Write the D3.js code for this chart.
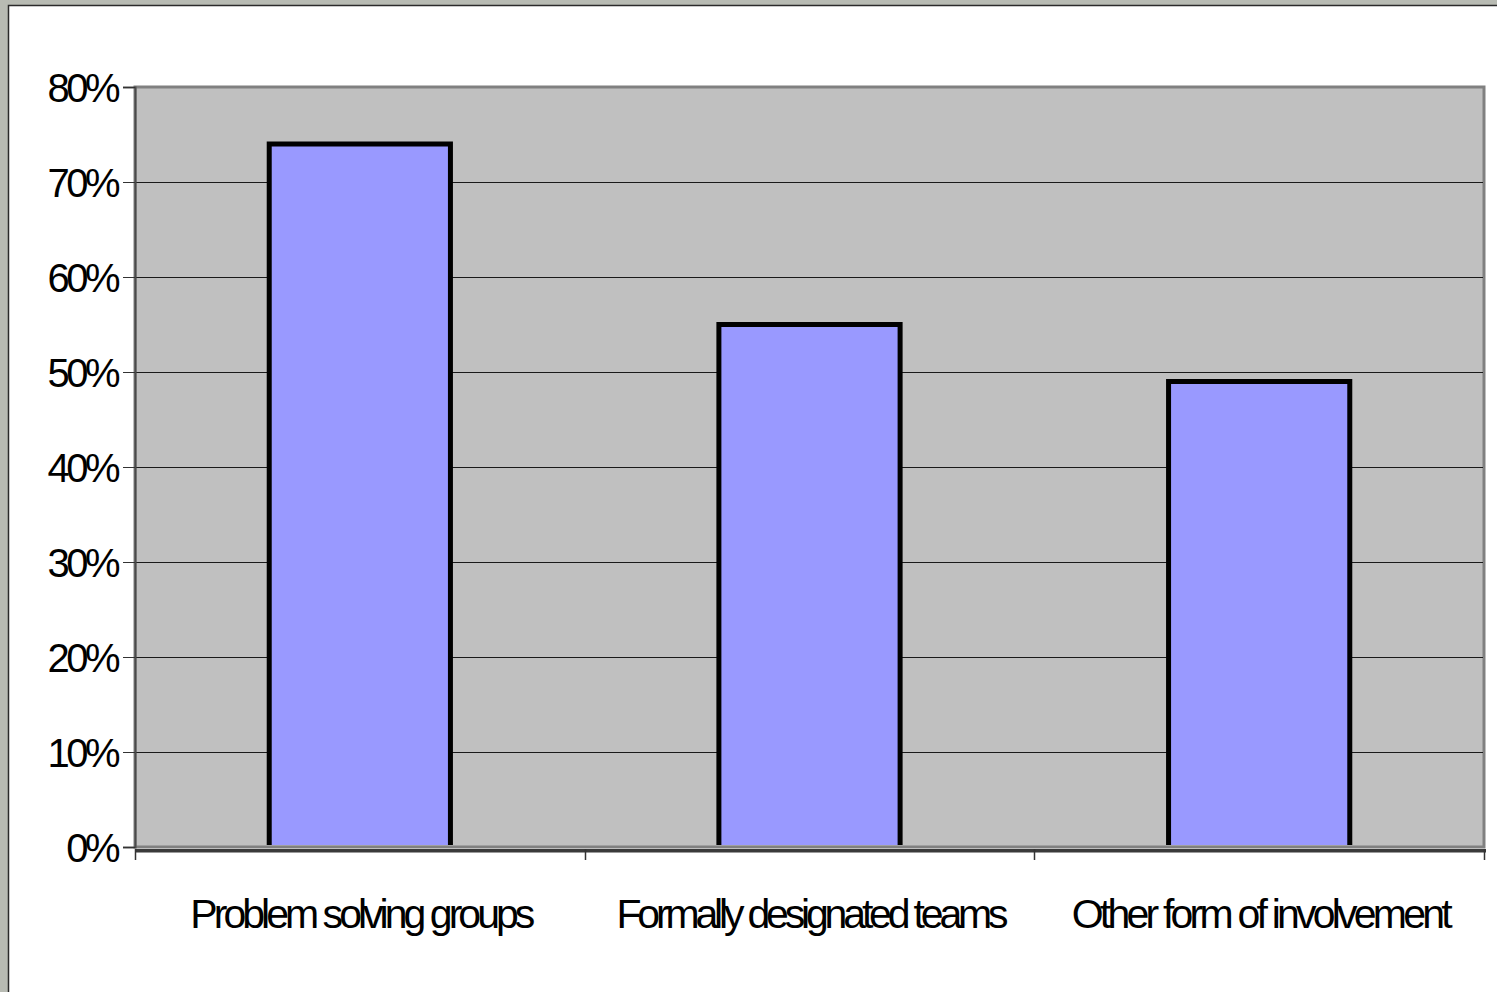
<!DOCTYPE html>
<html>
<head>
<meta charset="utf-8">
<script src="https://cdn.jsdelivr.net/npm/d3@7"></script>
<style>
  html, body { margin: 0; padding: 0; background: #b8bbb3; }
  svg { display: block; }
</style>
</head>
<body>
<svg id="chart" width="1497" height="992"></svg>
<script>
// Share of respondents by type of employee involvement
const categories = ["Problem solving groups", "Formally designated teams", "Other form of involvement"];
const values = [0.74, 0.55, 0.49];
const yTicks = [0, 0.1, 0.2, 0.3, 0.4, 0.5, 0.6, 0.7, 0.8];
const yTickLabels = ["0%", "10%", "20%", "30%", "40%", "50%", "60%", "70%", "80%"];
const labelWidths = [341, 388, 377];

const svg = d3.select("#chart");

// chart frame
svg.append("rect")
  .attr("x", 8.5).attr("y", 5.5)
  .attr("width", 1500).attr("height", 1000)
  .attr("fill", "#ffffff")
  .attr("stroke", "#2a2a2a").attr("stroke-width", 1.5);

const plot = { left: 135, right: 1484, top: 87, bottom: 847 };

const x = d3.scaleBand()
  .domain(categories)
  .range([plot.left, plot.right])
  .paddingInner(0).paddingOuter(0);

const y = d3.scaleLinear()
  .domain([0, 0.8])
  .range([plot.bottom, plot.top]);

// plot area
svg.append("rect")
  .attr("x", plot.left).attr("y", plot.top)
  .attr("width", plot.right - plot.left).attr("height", plot.bottom - plot.top)
  .attr("fill", "#c0c0c0")
  .attr("stroke", "#808080").attr("stroke-width", 3);

// gridlines
svg.append("g")
  .selectAll("line")
  .data(yTicks.filter(t => t > 0 && t < 0.8))
  .join("line")
  .attr("x1", plot.left + 1).attr("x2", plot.right - 1)
  .attr("y1", d => Math.round(y(d)) + 0.5)
  .attr("y2", d => Math.round(y(d)) + 0.5)
  .attr("stroke", "#1a1a1a").attr("stroke-width", 1);

// bars (open at the base, sitting just above the axis line)
const barW = x.bandwidth() * 0.403;
const barPath = (c, i, closed) => {
  const cx = x(c) + x.bandwidth() / 2;
  const x0 = cx - barW / 2, x1 = cx + barW / 2;
  const yb = y(0) - 2;
  return `M${x0},${yb} L${x0},${y(values[i])} L${x1},${y(values[i])} L${x1},${yb}` + (closed ? " Z" : "");
};

svg.append("g")
  .selectAll("path")
  .data(categories)
  .join("path")
  .attr("d", (c, i) => barPath(c, i, true))
  .attr("fill", "#9999ff");

svg.append("g")
  .selectAll("path")
  .data(categories)
  .join("path")
  .attr("d", (c, i) => barPath(c, i, false))
  .attr("fill", "none")
  .attr("stroke", "#000000").attr("stroke-width", 5)
  .attr("stroke-linejoin", "miter");

// y axis
const yAxis = d3.axisLeft(y)
  .tickValues(yTicks)
  .tickFormat((d, i) => yTickLabels[i])
  .tickSize(12)
  .tickPadding(6);

const gy = svg.append("g")
  .attr("transform", `translate(${plot.left},0)`)
  .call(yAxis);
gy.select(".domain").attr("stroke", "#4a4a4a").attr("stroke-width", 2);
gy.selectAll(".tick line").attr("stroke", "#333");
gy.selectAll(".tick text")
  .attr("font-family", "'Liberation Sans', Arial, sans-serif")
  .attr("font-size", 40)
  .attr("letter-spacing", -3.5)
  .attr("fill", "#000")
  .attr("dy", "0.36em");

// x axis line and ticks
svg.append("line")
  .attr("x1", plot.left).attr("x2", plot.right + 2)
  .attr("y1", y(0) + 3.5).attr("y2", y(0) + 3.5)
  .attr("stroke", "#3a3a3a").attr("stroke-width", 3);
svg.append("line")
  .attr("x1", plot.left).attr("x2", plot.right + 2)
  .attr("y1", y(0) + 5.5).attr("y2", y(0) + 5.5)
  .attr("stroke", "#9a9a9a").attr("stroke-width", 1);

const xTickPos = categories.map(c => x(c)).concat([x(categories[categories.length - 1]) + x.bandwidth()]);
svg.append("g")
  .selectAll("line")
  .data(xTickPos)
  .join("line")
  .attr("x1", d => Math.round(d) + 0.5).attr("x2", d => Math.round(d) + 0.5)
  .attr("y1", y(0) + 2).attr("y2", y(0) + 13)
  .attr("stroke", "#333").attr("stroke-width", 1.5);

// category labels: tight letter spacing, fitted to the label widths
const labels = svg.append("g")
  .selectAll("text")
  .data(categories)
  .join("text")
  .attr("x", c => x(c) + x.bandwidth() / 2)
  .attr("y", 928)
  .attr("text-anchor", "middle")
  .attr("font-family", "'Liberation Sans', Arial, sans-serif")
  .attr("font-size", 41)
  .attr("fill", "#000")
  .text(c => c);

labels.each(function (c, i) {
  const natural = this.getComputedTextLength();
  const n = c.length;
  const ls = (labelWidths[i] - natural) / n;
  d3.select(this)
    .attr("letter-spacing", ls)
    .attr("dx", ls / 2 + 3);
});
</script>
</body>
</html>
